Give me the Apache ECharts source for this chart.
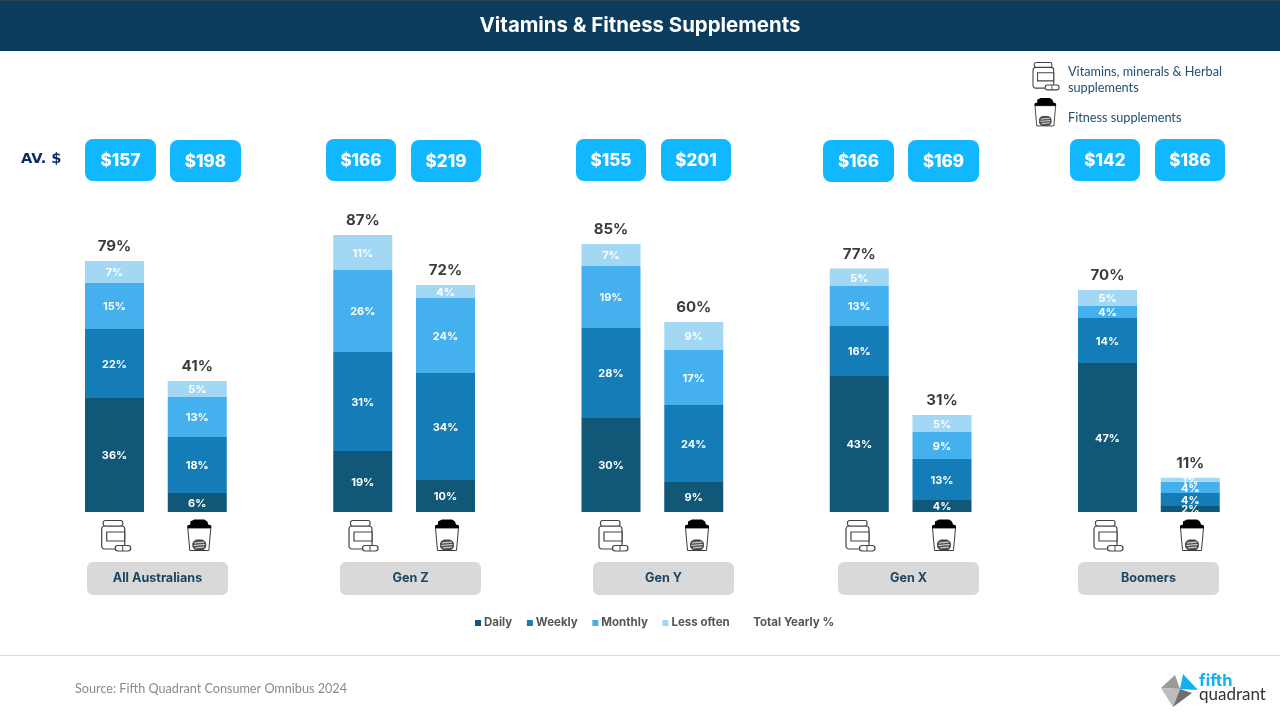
<!DOCTYPE html>
<html><head><meta charset="utf-8">
<style>html,body{margin:0;padding:0;background:#fff}#c{width:1280px;height:720px}</style>
<script src="https://cdn.jsdelivr.net/npm/echarts@6/dist/echarts.min.js"></script>
</head><body><div id="c"></div>
<script>
// ---- data ----
const categories = ['All Australians vitamins','All Australians fitness','',
  'Gen Z vitamins','Gen Z fitness','',
  'Gen Y vitamins','Gen Y fitness','',
  'Gen X vitamins','Gen X fitness','',
  'Boomers vitamins','Boomers fitness'];
const daily     = [35.85,5.97,null,19.18,10.06,null,29.56,9.43,null,42.77,3.77,null,46.86,1.89];
const weekly    = [21.70,17.61,null,31.13,33.65,null,28.30,24.21,null,15.72,12.89,null,14.15,4.09];
const monthly   = [14.50,12.58,null,25.79,23.58,null,19.49,17.30,null,12.58,8.50,null,3.77,3.50];
const lessOften = [6.92,5.03,null,11.01,4.09,null,6.92,8.81,null,5.49,5.35,null,5.03,1.26];
const totals    = [79,41,null,87,72,null,85,60,null,77,31,null,70,11];
const groupNames = ['All Australians','Gen Z','Gen Y','Gen X','Boomers'];
const avgSpend   = ['$157','$198','$166','$219','$155','$201','$166','$169','$142','$186'];

// ---- layout (not data) ----
const FONT = 'Inter, "Noto Sans", sans-serif';
const BODY = 'Lato, "Noto Sans", sans-serif';
const badgeBoxes = [[85,139,71],[170,140,71],[326,139,70],[411,140,70],[576,139,70],[661,139,70],[823,140,71],[908,140,71],[1070,139,70],[1155,139,70]];
const groupPillX = [87,340,593,838,1078];
const bottleX = [101.7,349,599,846,1094];
const shakerX = [187.3,435,685,932,1180];

const colors = {daily:'#115878',weekly:'#147cb6',monthly:'#45b0ee',less:'#a3d8f5'};

function bottle(x,y,s){
  const st={stroke:'#444',lineWidth:1.2,fill:'#fff'};
  return {type:'group',x,y,scaleX:s,scaleY:s,silent:true,children:[
    {type:'rect',shape:{x:0,y:6,width:23,height:23,r:3},style:st},
    {type:'rect',shape:{x:1.5,y:0.5,width:19.5,height:5.5,r:2},style:st},
    {type:'rect',shape:{x:5,y:12,width:18,height:9},style:st},
    {type:'rect',shape:{x:13.5,y:25.5,width:15.5,height:5.5,r:2.7},style:st},
    {type:'line',shape:{x1:21,y1:25.5,x2:21,y2:31},style:{stroke:'#444',lineWidth:1}}
  ]};
}
function shaker(x,y,s){
  const dark='#3a3a3a';
  return {type:'group',x,y,scaleX:s,scaleY:s,silent:true,children:[
    {type:'polygon',shape:{points:[[0.5,8.5],[2.5,31],[21.5,31],[23.5,8.5]]},style:{stroke:dark,lineWidth:1,fill:'#fff'}},
    {type:'polygon',shape:{points:[[3,2],[7,0],[17,0],[20,2],[21,5],[24,6],[24,8.5],[0,8.5],[0,6],[3,5]]},style:{fill:'#000'}},
    {type:'rect',shape:{x:5.5,y:20.5,width:13,height:10,r:4.5},style:{fill:'#555',stroke:dark,lineWidth:1}},
    {type:'line',shape:{x1:7,y1:23.5,x2:17,y2:22.5},style:{stroke:'#ddd',lineWidth:1}},
    {type:'line',shape:{x1:6.5,y1:26,x2:17.5,y2:25},style:{stroke:'#ddd',lineWidth:1}},
    {type:'line',shape:{x1:8,y1:28.5,x2:17,y2:27.5},style:{stroke:'#ddd',lineWidth:1}}
  ]};
}
function txt(text,x,y,font,fill,align){
  return {type:'text',silent:true,style:{text,x,y,font,fill,align:align||'center',verticalAlign:'middle'}};
}

const graphic=[];
// title bar
graphic.push({type:'rect',shape:{x:0,y:0,width:1280,height:51},style:{fill:'#0b3c5d'},silent:true});
graphic.push({type:'rect',shape:{x:0,y:0,width:1280,height:1},style:{fill:'#2c4454'},silent:true});
graphic.push(txt('Vitamins & Fitness Supplements',640,25.5,'700 20.4px '+FONT,'#fff'));
// AV. $
graphic.push(txt('AV. $',21,159,'700 14.6px "DejaVu Sans"','#10296a','left'));
// badges
avgSpend.forEach((v,i)=>{
  const [x,y,w]=badgeBoxes[i];
  graphic.push({type:'rect',silent:true,shape:{x,y,width:w,height:42,r:8},style:{fill:'#12b8ff'}});
  graphic.push(txt(v,x+w/2,y+21.5,'800 17px '+FONT,'#fff'));
});
// group pills
groupNames.forEach((n,i)=>{
  const x=groupPillX[i];
  graphic.push({type:'rect',silent:true,shape:{x,y:562,width:141,height:33,r:6},style:{fill:'#d9d9d9'}});
  graphic.push(txt(n,x+70.5,578,'700 12.6px '+FONT,'#1b4561'));
});
// icons under bars
bottleX.forEach(x=>graphic.push(bottle(x,520,1)));
shakerX.forEach(x=>graphic.push(shaker(x,519.5,1)));
// key top right
graphic.push(bottle(1033,62,0.9));
graphic.push(shaker(1034.5,98,0.9));
graphic.push(txt('Vitamins, minerals & Herbal',1068,72,'400 12.7px '+BODY,'#21506e','left'));
graphic.push(txt('supplements',1068,87.5,'400 12.7px '+BODY,'#21506e','left'));
graphic.push(txt('Fitness supplements',1068,118,'400 12.7px '+BODY,'#21506e','left'));
// footer
graphic.push({type:'rect',silent:true,shape:{x:0,y:655,width:1280,height:1},style:{fill:'#dcdcdc'}});
graphic.push(txt('Source: Fifth Quadrant Consumer Omnibus 2024',75,689,'400 12.65px '+BODY,'#8a8a8a','left'));
// logo
graphic.push({type:'polygon',silent:true,shape:{points:[[1161,688],[1175,675],[1180,689]]},style:{fill:'#9a9a9a'}});
graphic.push({type:'polygon',silent:true,shape:{points:[[1161,688],[1180,689],[1173,707]]},style:{fill:'#bdbdbd'}});
graphic.push({type:'polygon',silent:true,shape:{points:[[1173,707],[1180,689],[1192,693]]},style:{fill:'#6f6f6f'}});
graphic.push({type:'polygon',silent:true,shape:{points:[[1183,674],[1198,690],[1180,689]]},style:{fill:'#12b0f0'}});
graphic.push(txt('fifth',1199,681.5,'700 16.5px '+FONT,'#12b0f0','left'));
graphic.push(txt('quadrant',1199,694.5,'400 17px '+BODY,'#333','left'));

const stackTop = totals.map((t,i)=> t==null?null:+(daily[i]+weekly[i]+monthly[i]+lessOften[i]).toFixed(2));

function barSeries(name,data,color){
  return {name,type:'bar',stack:'s',data,barWidth:59,
    itemStyle:{color},
    silent:true,
    label:{show:true,position:'inside',offset:[0,1],color:'#fff',
      fontFamily:'Inter',fontWeight:700,fontSize:11,
      formatter:p=>Math.round(p.value)+'%'}};
}

const chart=echarts.init(document.getElementById('c'),null,{renderer:'canvas'});
chart.setOption({
  animation:false,
  backgroundColor:'#fff',
  grid:{left:73.125,width:1158.5,top:194,height:318},
  xAxis:{type:'category',data:categories,axisLabel:{show:false},axisLine:{show:false},axisTick:{show:false}},
  yAxis:{type:'value',min:0,max:100,show:false,splitLine:{show:false}},
  legend:{left:470,top:612,itemWidth:6,itemHeight:6,itemGap:14.6,icon:'rect',
    textStyle:{color:'#555',fontFamily:'Inter',fontWeight:700,fontSize:11.5,padding:[0,0,0,-2]},
    data:['Daily','Weekly','Monthly','Less often','Total Yearly %']},
  graphic,
  series:[
    barSeries('Daily',daily,colors.daily),
    barSeries('Weekly',weekly,colors.weekly),
    barSeries('Monthly',monthly,colors.monthly),
    barSeries('Less often',lessOften,colors.less),
    {name:'Total Yearly %',type:'scatter',symbolSize:1,silent:true,
      itemStyle:{color:'rgba(255,255,255,0)',opacity:1},
      data:stackTop,
      label:{show:true,position:'top',distance:6.5,color:'#3c3c3c',fontFamily:'Inter',fontWeight:700,fontSize:15,
        formatter:p=>totals[p.dataIndex]+'%'}}
  ]
});
</script></body></html>
